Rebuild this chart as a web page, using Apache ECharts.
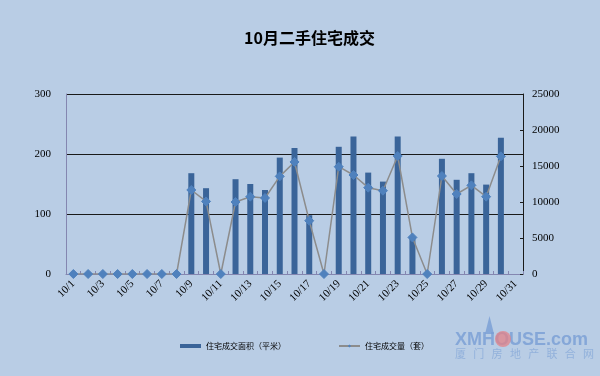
<!DOCTYPE html>
<html>
<head>
<meta charset="utf-8">
<script src="https://cdn.jsdelivr.net/npm/echarts@6/dist/echarts.min.js"></script>
<style>
  html, body { margin: 0; padding: 0; background: #b9cde5; }
  #chart { width: 600px; height: 376px; }
</style>
</head>
<body>
<div id="chart"></div>
<script>
const days = [];
for (let d = 1; d <= 31; d++) days.push('10/' + d);

// 住宅成交面积（平米）, left axis
const area = [0, 0, 0, 0, 0, 0, 0, 0, 168, 143, 0, 158, 150, 140, 194, 210, 98, 0,
  212, 229, 169, 154, 229, 61, 0, 192, 157, 168, 149, 227, null];
// 住宅成交量（套）, right axis
const count = [0, 0, 0, 0, 0, 0, 0, 0, 11670, 10080, 0, 10000, 10740, 10560, 13560, 15560, 7400, 0,
  14900, 13750, 11990, 11570, 16390, 5080, 0, 13610, 11110, 12310, 10740, 16340, null];

const markChars = ['厦', '门', '房', '地', '产', '联', '合', '网'];

const serif = '"Liberation Serif", "DejaVu Serif", serif';
const cjk = '"Noto Sans CJK SC", sans-serif';
const markColor = 'rgba(120,158,212,0.8)';

// watermark in the bottom right corner
const graphic = [
  {
    type: 'polygon', shape: { points: [[485, 334], [489.5, 316], [494, 334]] },
    style: { fill: markColor }
  },
  {
    type: 'text', left: 455, top: 331,
    style: { text: 'XMHOUSE.com', font: 'bold 18px "Liberation Sans", Arial, sans-serif', fill: markColor }
  },
  {
    type: 'circle', shape: { cx: 503, cy: 339, r: 8 },
    style: { fill: 'rgba(228,130,135,0.75)' }
  }
];
markChars.forEach((c, i) => {
  graphic.push({
    type: 'text', left: 455 + i * 18.3, top: 348,
    style: { text: c, font: '11px "Noto Sans CJK SC", sans-serif', fill: 'rgba(130,165,215,0.7)' }
  });
});

const chart = echarts.init(document.getElementById('chart'));
chart.setOption({
  backgroundColor: '#b9cde5',
  animation: false,
  title: {
    text: '10月二手住宅成交', left: 239, top: 25,
    textStyle: { fontFamily: cjk, fontSize: 16, fontWeight: 'bold', color: '#000' }
  },
  legend: {
    top: 337, left: 175, itemGap: 52, itemWidth: 21, itemHeight: 4,
    textStyle: { fontFamily: cjk, fontSize: 8, color: '#000' },
    data: [
      { name: '住宅成交面积（平米）', icon: 'rect' },
      { name: '住宅成交量（套）' }
    ]
  },
  grid: { left: 66, right: 77, top: 94, bottom: 102 },
  xAxis: {
    type: 'category', data: days,
    axisLine: { lineStyle: { color: '#8486b0' } },
    axisTick: { show: true, inside: true, length: 3, interval: 0, lineStyle: { color: '#8486b0' } },
    axisLabel: { interval: 1, rotate: 45, fontFamily: serif, fontSize: 11, color: '#000', margin: 8 }
  },
  yAxis: [
    {
      type: 'value', min: 0, max: 300, interval: 100,
      axisLine: { show: true, lineStyle: { color: '#8486b0' } },
      axisTick: { show: false },
      axisLabel: { fontFamily: serif, fontSize: 11, color: '#000', margin: 15 },
      splitLine: { lineStyle: { color: '#1a1a1a', width: 1 } }
    },
    {
      type: 'value', min: 0, max: 25000, interval: 5000,
      axisLine: { show: true, lineStyle: { color: '#1a1a1a' } },
      axisTick: { show: true, inside: true, length: 3, lineStyle: { color: '#1a1a1a' } },
      axisLabel: { fontFamily: serif, fontSize: 11, color: '#000', margin: 9, formatter: (v) => String(v) },
      splitLine: { show: false }
    }
  ],
  series: [
    {
      name: '住宅成交面积（平米）', type: 'bar', yAxisIndex: 0, data: area,
      barWidth: 6, itemStyle: { color: '#3a6499' }
    },
    {
      name: '住宅成交量（套）', type: 'line', yAxisIndex: 1, data: count,
      symbol: 'diamond', symbolSize: 9, connectNulls: false,
      lineStyle: { color: '#8c8c8c', width: 1.5 },
      itemStyle: { color: '#4f81bd', borderColor: '#4f81bd' }
    }
  ],
  graphic: graphic
});
</script>
</body>
</html>
